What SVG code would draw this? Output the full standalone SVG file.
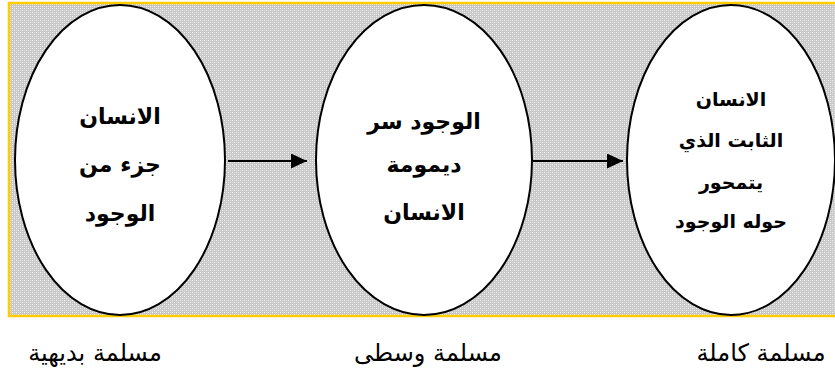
<svg xmlns="http://www.w3.org/2000/svg" width="835" height="377" viewBox="0 0 835 377">
<style>
.node ellipse{fill:#fff;stroke:#000;stroke-width:2}
.lbl{font-family:"DejaVu Sans",sans-serif;font-weight:bold;font-size:22px;text-anchor:middle;fill:#000}
.lbl3{font-family:"DejaVu Sans",sans-serif;font-weight:bold;font-size:19px;text-anchor:middle;fill:#000}
.cap{font-family:"DejaVu Sans",sans-serif;font-size:24px;text-anchor:middle;fill:#000}
.conn line{stroke:#000;stroke-width:2}
</style>
<defs>
<pattern id="dots" width="4" height="4" patternUnits="userSpaceOnUse">
<rect width="4" height="4" fill="#c8c8c8"/>
<rect x="0" y="0" width="1" height="1" fill="#f4f4f4"/>
<rect x="2" y="2" width="1" height="1" fill="#f4f4f4"/>
<rect x="2" y="0" width="1" height="1" fill="#e0e0e0"/>
<rect x="0" y="2" width="1" height="1" fill="#e0e0e0"/>
</pattern>
<marker id="ah" markerWidth="16" markerHeight="15" refX="16" refY="7.5" orient="auto" markerUnits="userSpaceOnUse">
<path d="M0,0 L16,7.5 L0,15 Z" fill="#000"/>
</marker>
</defs>
<rect width="835" height="377" fill="#fff"/>
<rect x="9" y="3" width="840" height="313" fill="url(#dots)" stroke="#FFCC00" stroke-width="2.5"/>
<g class="conn" id="connectors">
<line x1="228" y1="161" x2="307" y2="161" marker-end="url(#ah)"/>
<line x1="533" y1="161" x2="623" y2="161" marker-end="url(#ah)"/>
</g>
<g class="node" id="node1">
<ellipse cx="120" cy="160" rx="105" ry="155"/>
<text class="lbl" x="120" y="124" direction="rtl">الانسان</text>
<text class="lbl" x="120" y="172" direction="rtl">جزء من</text>
<text class="lbl" x="120" y="221" direction="rtl">الوجود</text>
</g>
<g class="node" id="node2">
<ellipse cx="424" cy="160" rx="108" ry="155"/>
<text class="lbl" x="424" y="129" direction="rtl">الوجود سر</text>
<text class="lbl" x="424" y="172" direction="rtl">ديمومة</text>
<text class="lbl" x="424" y="220" direction="rtl">الانسان</text>
</g>
<g class="node" id="node3">
<ellipse cx="731" cy="160" rx="104" ry="155"/>
<text class="lbl3" x="731" y="106" direction="rtl">الانسان</text>
<text class="lbl3" x="731" y="147" direction="rtl">الثابت الذي</text>
<text class="lbl3" x="731" y="189" direction="rtl">يتمحور</text>
<text class="lbl3" x="731" y="228" direction="rtl">حوله الوجود</text>
</g>
<g id="captions">
<text class="cap" x="95" y="361" direction="rtl">مسلمة بديهية</text>
<text class="cap" x="428" y="361" direction="rtl">مسلمة وسطى</text>
<text class="cap" x="761" y="361" direction="rtl">مسلمة كاملة</text>
</g>
</svg>
